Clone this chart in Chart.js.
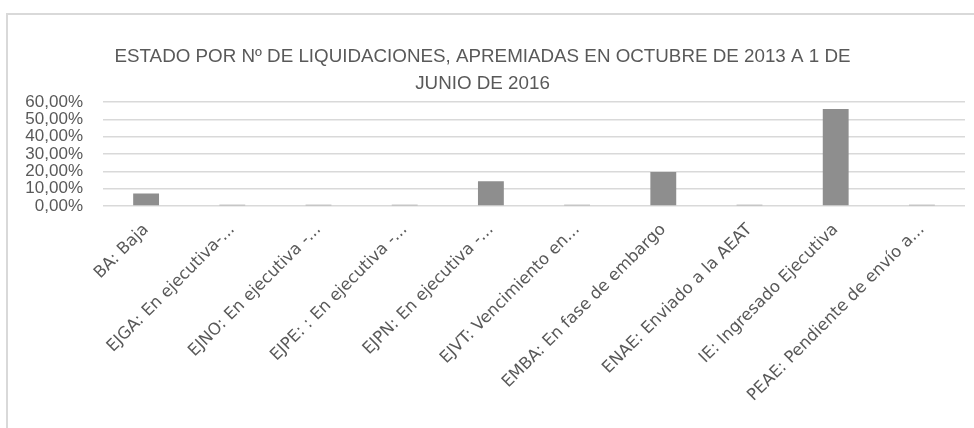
<!DOCTYPE html>
<html>
<head>
<meta charset="utf-8">
<script src="https://cdn.jsdelivr.net/npm/chart.js@4"></script>
<style>
  html, body { margin: 0; padding: 0; background: #fff; overflow: hidden; }
  #frame {
    position: absolute; left: 6px; top: 13px; width: 1000px; height: 500px;
    border-left: 2px solid #d9d9d9; border-top: 2px solid #d9d9d9;
  }
  #wrap { position: absolute; left: 0; top: 0; width: 974px; height: 428px; }
</style>
</head>
<body>
<div id="frame"></div>
<div id="wrap"><canvas id="chart" width="974" height="428"></canvas></div>
<script>
// Estado de las liquidaciones apremiadas (porcentaje sobre el total)
const categories = [
  'BA: Baja',
  'EJGA: En ejecutiva-...',
  'EJNO: En ejecutiva -...',
  'EJPE: : En ejecutiva -...',
  'EJPN: En ejecutiva -...',
  'EJVT: Vencimiento en...',
  'EMBA: En fase de embargo',
  'ENAE: Enviado a la AEAT',
  'IE: Ingresado Ejecutiva',
  'PEAE: Pendiente de envío a...'
];
const shares = [7.2, 0.7, 0.7, 0.7, 14.3, 0.7, 19.7, 0.7, 56.1, 0.7];
const yTicks = [0, 10, 20, 30, 40, 50, 60];
const titleLines = [
  'ESTADO POR Nº DE LIQUIDACIONES, APREMIADAS EN OCTUBRE DE 2013 A 1 DE',
  'JUNIO DE 2016'
];

const textGray = '#595959';
const fmtPct = v => v.toFixed(2).replace('.', ',') + '%';

new Chart(document.getElementById('chart').getContext('2d'), {
  type: 'bar',
  data: {
    labels: categories,
    datasets: [{
      data: shares,
      backgroundColor: '#8e8e8e',
      borderWidth: 0,
      barPercentage: 0.6,
      categoryPercentage: 0.5
    }]
  },
  options: {
    responsive: false,
    animation: false,
    layout: { padding: { left: 0, right: 9, top: 43, bottom: 0 } },
    plugins: {
      legend: { display: false },
      tooltip: { enabled: false },
      title: {
        display: true,
        text: titleLines,
        color: textGray,
        font: { family: 'Liberation Sans', size: 18.8, weight: 'normal', lineHeight: 1.44 },
        padding: { top: 0, bottom: 5 }
      }
    },
    scales: {
      x: {
        grid: { display: false, drawTicks: false },
        border: { display: false },
        ticks: {
          color: textGray,
          font: { family: 'DejaVu Sans', size: 16.5 },
          minRotation: 45,
          maxRotation: 45,
          autoSkip: false,
          padding: 14
        },
        afterFit: s => { s.height = 222; }
      },
      y: {
        min: 0,
        max: 60,
        afterBuildTicks: s => { s.ticks = yTicks.map(v => ({ value: v })); },
        grid: { color: '#d9d9d9', lineWidth: 1.5, drawTicks: false },
        border: { display: false },
        ticks: {
          color: textGray,
          font: { family: 'Liberation Sans', size: 17 },
          autoSkip: false,
          padding: 20,
          callback: v => fmtPct(v)
        },
        afterFit: s => { s.width = 103; }
      }
    }
  }
});
</script>
</body>
</html>
